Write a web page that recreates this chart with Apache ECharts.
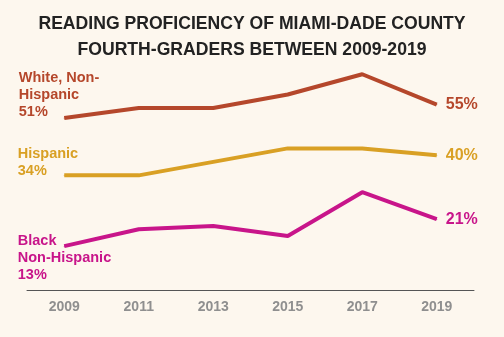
<!DOCTYPE html>
<html>
<head>
<meta charset="utf-8">
<script src="https://cdn.jsdelivr.net/npm/echarts@6/dist/echarts.min.js"></script>
<style>
html,body{margin:0;padding:0;background:#fdf7ee;}
#c{width:504px;height:337px;}
</style>
</head>
<body>
<div id="c"></div>
<script>
const years = ['2009', '2011', '2013', '2015', '2017', '2019'];
const white = [51, 54, 54, 58, 64, 55];
const hispanic = [34, 34, 38, 42, 42, 40];
const black = [13, 18, 19, 16, 29, 21];
const seriesNames = ['White, Non-\nHispanic', 'Hispanic', 'Black\nNon-Hispanic'];
const colors = ['#b5472b', '#d9a024', '#c8158a'];
const titleText = 'READING PROFICIENCY OF MIAMI-DADE COUNTY\nFOURTH-GRADERS BETWEEN 2009-2019';

const labelOffsets = [[-45, 3, 'bottom'], [-46, 5, 'bottom'], [-46, -13, 'top']];

function makeSeries(idx, values) {
  const off = labelOffsets[idx];
  const data = values.map((v, i) => {
    if (i === 0) {
      return {
        value: v,
        label: {
          show: true,
          position: [off[0], off[1]],
          align: 'left',
          verticalAlign: off[2],
          formatter: seriesNames[idx] + '\n' + v + '%',
          color: colors[idx],
          fontSize: 14.5,
          fontWeight: 'bold',
          fontFamily: 'Liberation Sans, Arial, sans-serif',
          lineHeight: 17
        }
      };
    }
    return v;
  });
  return {
    type: 'line',
    name: seriesNames[idx],
    data: data,
    symbol: 'circle',
    symbolSize: 1,
    itemStyle: { color: colors[idx] },
    lineStyle: { color: colors[idx], width: 4 },
    silent: true,
    animation: false,
    endLabel: {
      show: true,
      formatter: p => p.value + '%',
      color: colors[idx],
      fontSize: 16,
      fontWeight: 'bold',
      fontFamily: 'Liberation Sans, Arial, sans-serif',
      distance: 9
    }
  };
}

const chart = echarts.init(document.getElementById('c'), null, { renderer: 'canvas' });
chart.setOption({
  backgroundColor: '#fdf7ee',
  animation: false,
  title: {
    text: titleText,
    left: 'center',
    top: 6,
    textStyle: {
      fontSize: 17.6,
      fontWeight: 'bold',
      color: '#222222',
      fontFamily: 'Liberation Sans, Arial, sans-serif',
      lineHeight: 26
    }
  },
  grid: { left: 27, right: 30, top: 54, bottom: 47 },
  xAxis: {
    type: 'category',
    data: years,
    boundaryGap: true,
    axisLine: { lineStyle: { color: '#555555', width: 1 } },
    axisTick: { show: false },
    axisLabel: {
      color: '#8f8f8f',
      fontSize: 14,
      fontWeight: 'bold',
      fontFamily: 'Liberation Sans, Arial, sans-serif',
      margin: 10
    }
  },
  yAxis: {
    type: 'value',
    min: 0,
    max: 70,
    show: false,
    splitLine: { show: false }
  },
  series: [makeSeries(0, white), makeSeries(1, hispanic), makeSeries(2, black)]
});
</script>
</body>
</html>
